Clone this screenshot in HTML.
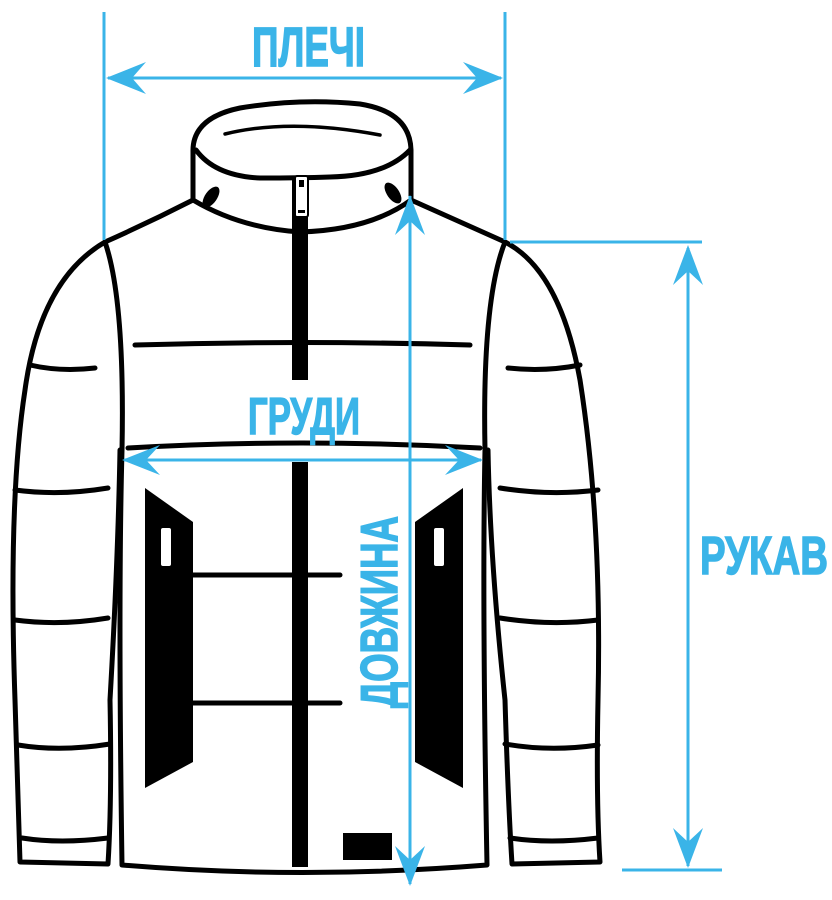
<!DOCTYPE html>
<html><head><meta charset="utf-8"><style>
html,body{margin:0;padding:0;background:#fff;}
svg{display:block;}
text{font-family:"Liberation Sans Narrow","Liberation Sans",sans-serif;font-weight:bold;fill:#3ab4e8;stroke:#3ab4e8;stroke-width:1.5;}
</style></head><body>
<svg width="832" height="900" viewBox="0 0 832 900" xmlns="http://www.w3.org/2000/svg">
<g fill="none" stroke="#000" stroke-width="5" stroke-linejoin="round" stroke-linecap="round">
<!-- collar -->
<path d="M193 200 L193 152 Q192 118 240 108 Q300 98 360 104 Q410 112 411 150 L411 200" fill="#fff"/>
<path d="M196 150 Q215 176 260 178 Q300 178 330 177 Q385 176 410 150"/>
<path d="M193 200 Q240 228 300 232 Q370 230 411 200"/>
<path d="M225 134 Q290 118 380 135" stroke-width="3.5"/>
<!-- body -->
<path d="M193 200 Q150 222 105 242 Q125 300 122 450 Q118 600 122 865 Q300 880 487 865 Q482 600 485 450 Q482 300 505 242 Q460 222 411 200"/>
<!-- left sleeve -->
<path d="M105 242 Q40 280 25 390 Q8 500 15 700 Q18 800 20 862 L108 864 Q112 800 110 700 Q118 560 120 450"/>
<!-- right sleeve -->
<path d="M505 242 Q560 270 580 380 Q602 520 598 700 Q596 800 600 862 L512 864 Q508 800 505 700 Q490 560 488 450"/>
<!-- quilt lines body -->
<path d="M135 345 Q300 340 470 345"/>
<path d="M128 448 Q300 438 480 448"/>
<path d="M193 575 L340 575"/>
<path d="M193 703 L340 703"/>
<!-- sleeve lines -->
<path d="M30 365 Q60 372 95 368"/>
<path d="M15 490 Q60 496 108 488"/>
<path d="M15 620 Q60 626 108 618"/>
<path d="M18 745 Q60 752 110 744"/>
<path d="M22 838 Q60 844 108 838"/>
<path d="M508 368 Q545 372 580 365"/>
<path d="M500 488 Q550 496 598 490"/>
<path d="M500 618 Q550 626 598 620"/>
<path d="M505 744 Q550 752 598 745"/>
<path d="M510 838 Q550 844 598 838"/>
</g>
<!-- collar vents -->
<ellipse cx="211" cy="197" rx="6" ry="12" transform="rotate(35 211 197)" fill="#000"/>
<ellipse cx="393" cy="193" rx="6" ry="12" transform="rotate(-35 393 193)" fill="#000"/>
<!-- zipper -->
<rect x="292" y="176" width="16" height="204" fill="#000"/>
<rect x="292" y="462" width="16" height="405" fill="#000"/>
<rect x="295" y="176" width="13" height="41" rx="2" fill="#fff" stroke="#000" stroke-width="2"/>
<rect x="299" y="180" width="5" height="7" fill="#000"/>
<rect x="298" y="210" width="7" height="3" fill="#000"/>
<!-- pockets -->
<path d="M145 488 L193 522 L193 762 L145 788 Z" fill="#000"/>
<path d="M463 488 L415 522 L415 762 L463 788 Z" fill="#000"/>
<rect x="160" y="527" width="12" height="40" rx="3" fill="#fff" stroke="#000" stroke-width="2"/>
<rect x="433" y="527" width="12" height="40" rx="3" fill="#fff" stroke="#000" stroke-width="2"/>
<!-- label -->
<rect x="343" y="833" width="49" height="27" fill="#000"/>
<!-- measurements -->
<g stroke="#3ab4e8" stroke-width="3" fill="none">
<line x1="104" y1="12" x2="104" y2="240"/>
<line x1="505" y1="12" x2="505" y2="240"/>
<line x1="108" y1="78" x2="501" y2="78"/>
<line x1="510" y1="242" x2="702" y2="242"/>
<line x1="622" y1="870" x2="722" y2="870"/>
<line x1="688" y1="248" x2="688" y2="866"/>
<line x1="410" y1="196" x2="410" y2="884"/>
<line x1="124" y1="460" x2="481" y2="460"/>
</g>
<g fill="#3ab4e8">
<path d="M106 78 L146 62 L132 78 L146 94 Z"/>
<path d="M503 78 L463 62 L477 78 L463 94 Z"/>
<path d="M122 460 L160 445 L146 460 L160 475 Z"/>
<path d="M483 460 L445 445 L459 460 L445 475 Z"/>
<path d="M688 245 L673 285 L688 271 L703 285 Z"/>
<path d="M688 868 L673 828 L688 842 L703 828 Z"/>
<path d="M410 195 L395 235 L410 221 L425 235 Z"/>
<path d="M410 886 L395 846 L410 860 L425 846 Z"/>
</g>
<text x="252" y="66" font-size="56" textLength="113" lengthAdjust="spacingAndGlyphs">ПЛЕЧІ</text>
<text x="248" y="434" font-size="52" textLength="112" lengthAdjust="spacingAndGlyphs">ГРУДИ</text>
<text x="700" y="574" font-size="54" textLength="128" lengthAdjust="spacingAndGlyphs">РУКАВ</text>
<text transform="translate(397 708) rotate(-90)" font-size="52" textLength="192" lengthAdjust="spacingAndGlyphs">ДОВЖИНА</text>
</svg>
</body></html>
